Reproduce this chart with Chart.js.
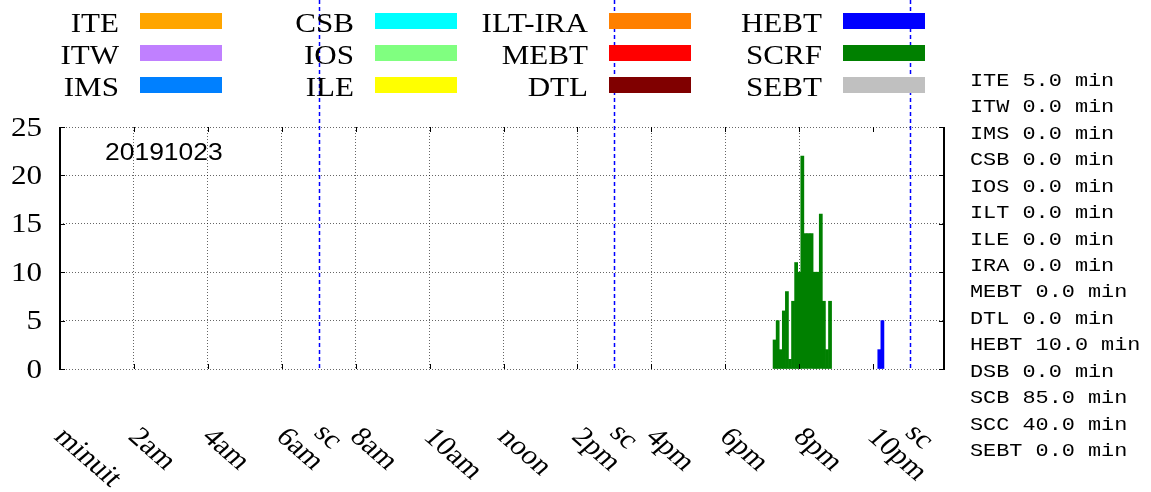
<!DOCTYPE html>
<html>
<head>
<meta charset="utf-8">
<script src="https://cdn.jsdelivr.net/npm/chart.js@4/dist/chart.umd.min.js"></script>
<style>
  html, body { margin: 0; padding: 0; background: #fff; }
  #wrap { width: 1151px; height: 492px; position: relative; }
</style>
</head>
<body>
<div id="wrap"><canvas id="c" width="1151" height="492"></canvas></div>
<script>
// ---- data ----
const dateLabel = '20191023';

const legendNames  = ['ITE', 'ITW', 'IMS', 'CSB', 'IOS', 'ILE', 'ILT-IRA', 'MEBT', 'DTL', 'HEBT', 'SCRF', 'SEBT'];
const legendColors = ['#ffa500', '#c080ff', '#0080ff', '#00ffff', '#80ff80', '#ffff00',
                      '#ff8000', '#ff0000', '#800000', '#0000ff', '#008000', '#c0c0c0'];

// 5-minute bins (bin centre, HH:MM) and counts
const scrfTimes  = ['19:20', '19:25', '19:30', '19:35', '19:40', '19:45', '19:50', '19:55', '20:00', '20:05',
                    '20:10', '20:15', '20:20', '20:25', '20:30', '20:35', '20:40', '20:45', '20:50'];
const scrfCounts = [3, 5, 2, 6, 8, 1, 7, 11, 10, 22, 14, 14, 14, 10, 10, 16, 7, 2, 7];

const hebtTimes  = ['22:10', '22:15'];
const hebtCounts = [2, 5];

const hourTicks  = [0, 2, 4, 6, 8, 10, 12, 14, 16, 18, 20, 22];
const hourLabels = ['minuit', '2am', '4am', '6am', '8am', '10am', 'noon', '2pm', '4pm', '6pm', '8pm', '10pm'];
const dayEndHour = 23 + 55 / 60;

const yTicks = [0, 5, 10, 15, 20, 25];

const shiftChangeHours = [7, 15, 23];
const shiftChangeLabel = 'sc';

const summaryNames   = ['ITE', 'ITW', 'IMS', 'CSB', 'IOS', 'ILT', 'ILE', 'IRA', 'MEBT', 'DTL', 'HEBT', 'DSB', 'SCB', 'SCC', 'SEBT'];
const summaryMinutes = [5, 0, 0, 0, 0, 0, 0, 0, 0, 0, 10, 0, 85, 40, 0];

// ---- helpers ----
function toHours(hhmm) {
  const [h, m] = hhmm.split(':').map(Number);
  return h + m / 60;
}
function points(times, counts) {
  return times.map((t, i) => ({ x: toHours(t), y: counts[i] }));
}

const seriesData = {
  'HEBT': points(hebtTimes, hebtCounts),
  'SCRF': points(scrfTimes, scrfCounts)
};

const SERIF = '"Liberation Serif", "Times New Roman", serif';
const SANS  = '"Liberation Sans", Arial, sans-serif';
const MONO  = '"Liberation Mono", "Courier New", monospace';
const SX = 1.15; // horizontal text stretch

function drawText(ctx, s, x, y, font, align, baseline, angle) {
  ctx.save();
  ctx.translate(x, y);
  ctx.scale(SX, 1);
  if (angle) ctx.rotate(angle);
  ctx.font = font;
  ctx.textAlign = align;
  ctx.textBaseline = baseline;
  ctx.fillStyle = '#000';
  ctx.fillText(s, 0, 0);
  ctx.restore();
}

// ---- decorations: frame, ticks, labels, legend, shift-change lines ----
const decorations = {
  id: 'decorations',
  afterDraw(chart) {
    const ctx = chart.ctx;
    const xs = chart.scales.x, ys = chart.scales.y;
    const area = chart.chartArea;

    // shift-change markers
    ctx.save();
    ctx.strokeStyle = '#0000ff';
    ctx.lineWidth = 1.5;
    ctx.setLineDash([4, 3]);
    shiftChangeHours.forEach(h => {
      const px = Math.round(xs.getPixelForValue(h)) + 0.5;
      ctx.beginPath();
      ctx.moveTo(px, 0);
      ctx.lineTo(px, area.bottom);
      ctx.stroke();
    });
    ctx.restore();

    // left / right frame
    ctx.save();
    ctx.strokeStyle = '#000';
    ctx.lineWidth = 2;
    ctx.beginPath();
    ctx.moveTo(area.left, area.top); ctx.lineTo(area.left, area.bottom + 1);
    ctx.moveTo(area.right, area.top); ctx.lineTo(area.right, area.bottom + 1);
    ctx.stroke();

    // inward tick marks
    ctx.lineWidth = 1;
    ctx.beginPath();
    yTicks.forEach(v => {
      const py = Math.round(ys.getPixelForValue(v)) + 0.5;
      ctx.moveTo(area.left, py); ctx.lineTo(area.left + 5, py);
      ctx.moveTo(area.right, py); ctx.lineTo(area.right - 5, py);
    });
    hourTicks.forEach(h => {
      const px = Math.round(xs.getPixelForValue(h)) + 0.5;
      ctx.moveTo(px, area.bottom); ctx.lineTo(px, area.bottom - 5);
      ctx.moveTo(px, area.top); ctx.lineTo(px, area.top + 5);
    });
    ctx.stroke();
    ctx.restore();

    // y labels
    yTicks.forEach(v => {
      drawText(ctx, String(v), 42, ys.getPixelForValue(v) + 8.5, '27px ' + SERIF, 'right', 'alphabetic');
    });

    // x labels (rotated)
    const rot = Math.PI / 4;
    hourTicks.forEach((h, i) => {
      drawText(ctx, hourLabels[i], xs.getPixelForValue(h) - 7, 438, '27px ' + SERIF, 'left', 'alphabetic', rot);
    });
    shiftChangeHours.forEach(h => {
      drawText(ctx, shiftChangeLabel, xs.getPixelForValue(h) - 6, 434, '27px ' + SERIF, 'left', 'alphabetic', rot);
    });

    // date label
    drawText(ctx, dateLabel, 105, 160, '23px ' + SANS, 'left', 'alphabetic');

    // legend, 4 columns x 3 rows
    const colX = [140, 375, 609, 843];
    const rowY = [20.8, 52.8, 84.8];
    legendNames.forEach((name, i) => {
      const c = Math.floor(i / 3), r = i % 3;
      const sx = colX[c], cy = rowY[r];
      ctx.fillStyle = legendColors[i];
      ctx.fillRect(sx, Math.round(cy - 8), 82, 16);
      drawText(ctx, name, sx - 21, cy + 11, '27px ' + SERIF, 'right', 'alphabetic');
    });

    // totals per system
    summaryNames.forEach((name, i) => {
      const line = name + ' ' + summaryMinutes[i].toFixed(1) + ' min';
      drawText(ctx, line, 970, 86 + i * 26.43, '19px ' + MONO, 'left', 'alphabetic');
    });
  }
};

const datasets = legendNames.map((name, i) => ({
  label: name,
  data: seriesData[name] || [],
  backgroundColor: legendColors[i],
  borderWidth: 0,
  grouped: false,
  barPercentage: 1.0,
  categoryPercentage: 1.0
}));

new Chart(document.getElementById('c'), {
  type: 'bar',
  data: { datasets },
  options: {
    responsive: false,
    animation: false,
    devicePixelRatio: 1,
    layout: { padding: { left: 60, right: 207, top: 127, bottom: 123 } },
    plugins: { legend: { display: false }, tooltip: { enabled: false } },
    scales: {
      x: {
        type: 'linear',
        offset: false,
        min: 0,
        max: dayEndHour,
        ticks: { display: false, stepSize: 2 },
        grid: { offset: false, drawTicks: false, color: 'rgba(0,0,0,0.6)', lineWidth: 1 },
        border: { display: false, dash: [1, 2] }
      },
      y: {
        min: 0,
        max: 25,
        ticks: { display: false, stepSize: 5 },
        grid: { drawTicks: false, color: 'rgba(0,0,0,0.6)', lineWidth: 1 },
        border: { display: false, dash: [1, 2] }
      }
    }
  },
  plugins: [decorations]
});
</script>
</body>
</html>
